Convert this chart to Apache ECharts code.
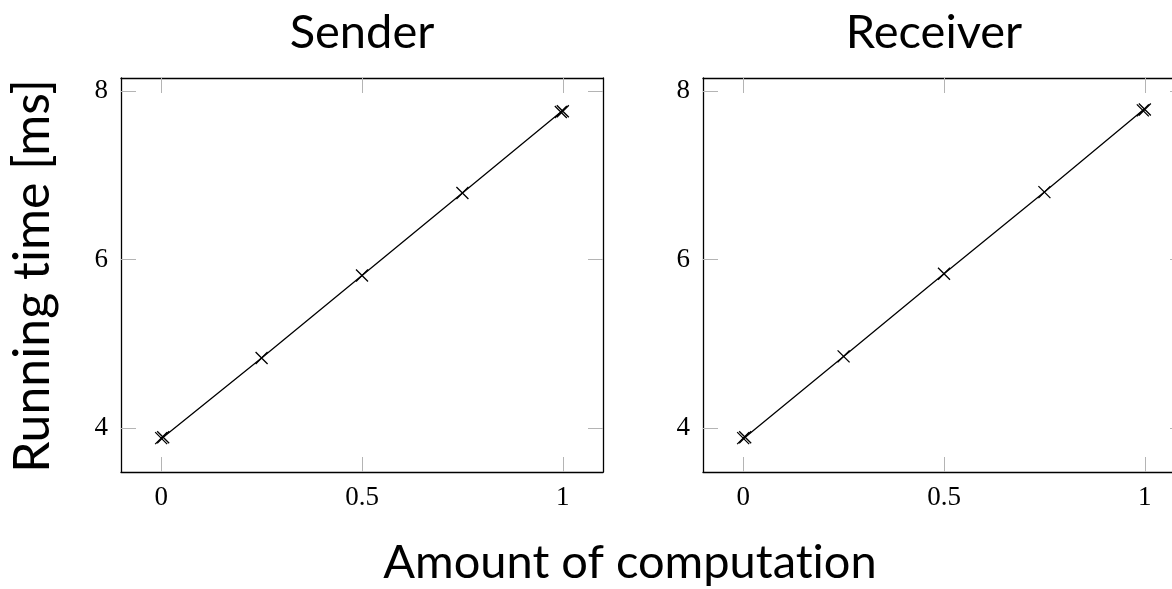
<!DOCTYPE html>
<html>
<head>
<meta charset="utf-8">
<script src="https://cdn.jsdelivr.net/npm/echarts@6/dist/echarts.min.js"></script>
<style>
  html, body { margin: 0; padding: 0; background: #fff; }
  #main { width: 1172px; height: 589px; }
</style>
</head>
<body>
<div id="main"></div>
<script>
// amount of computation (x) and running time in ms (y)
const amount = [0, 0.005, 0.25, 0.5, 0.75, 0.995, 1];
const senderTime = [3.88, 3.89, 4.83, 5.81, 6.79, 7.75, 7.76];
const receiverTime = [3.88, 3.89, 4.85, 5.83, 6.80, 7.77, 7.78];
const xTicks = [0, 0.5, 1];
const yTicks = [4, 6, 8];
const panelTitles = ['Sender', 'Receiver'];

const sansFont = 'Lato, "Open Sans", sans-serif';
const serifFont = '"Liberation Serif", "DejaVu Serif", serif';
const crossPath = 'path://M0,0L10,10M0,10L10,0';
const noLig = s => s.replace(/ti/g, 't\u200Ci'); // keep "ti" from turning into a ligature

function pairs(xs, ys) {
    return xs.map((x, i) => [x, ys[i]]);
}

const grids = [
    { left: 121, top: 78, width: 482, height: 394, outerBoundsMode: 'none' },
    { left: 703, top: 78, width: 482, height: 394, outerBoundsMode: 'none' }
];

let xAxes = [], yAxes = [];
grids.forEach((g, i) => {
    ['bottom', 'top'].forEach(pos => {
        xAxes.push({
            type: 'value', gridIndex: i, position: pos,
            min: -0.1, max: 1.1,
            axisLine: { show: true, onZero: false, lineStyle: { color: '#000', width: 1.3 } },
            axisTick: { show: true, inside: true, length: 15, customValues: xTicks, lineStyle: { color: '#b4b4b4', width: 1 } },
            axisLabel: {
                show: pos === 'bottom', customValues: xTicks, margin: 12,
                fontFamily: serifFont, fontSize: 27, color: '#000',
                formatter: v => String(v)
            },
            splitLine: { show: false }
        });
    });
    ['left', 'right'].forEach(pos => {
        yAxes.push({
            type: 'value', gridIndex: i, position: pos,
            min: 3.478, max: 8.154,
            axisLine: { show: true, onZero: false, lineStyle: { color: '#000', width: 1.3 } },
            axisTick: { show: true, inside: true, length: 15, customValues: yTicks, lineStyle: { color: '#b4b4b4', width: 1 } },
            axisLabel: {
                show: pos === 'left', customValues: yTicks, margin: 13,
                fontFamily: serifFont, fontSize: 27, color: '#000',
                formatter: v => String(v)
            },
            splitLine: { show: false }
        });
    });
});

function lineSeries(idx, data) {
    return {
        type: 'line',
        xAxisIndex: idx * 2, yAxisIndex: idx * 2,
        data: data,
        symbol: crossPath, symbolSize: 12, showAllSymbol: true,
        lineStyle: { color: '#000', width: 1.3 },
        itemStyle: { color: 'transparent', borderColor: '#000', borderWidth: 1.3 },
        emphasis: { disabled: true },
        z: 3
    };
}

const chart = echarts.init(document.getElementById('main'), null, { renderer: 'canvas' });
chart.setOption({
    animation: false,
    backgroundColor: '#fff',
    grid: grids,
    xAxis: xAxes,
    yAxis: yAxes,
    series: [
        lineSeries(0, pairs(amount, senderTime)),
        lineSeries(1, pairs(amount, receiverTime))
    ],
    graphic: [
        { type: 'text', x: 362, y: 33, style: { text: panelTitles[0], font: '47px ' + sansFont, fill: '#000', textAlign: 'center', textVerticalAlign: 'middle' } },
        { type: 'text', x: 934, y: 33, style: { text: panelTitles[1], font: '47px ' + sansFont, fill: '#000', textAlign: 'center', textVerticalAlign: 'middle' } },
        { type: 'text', x: 630, y: 563, style: { text: noLig('Amount of computation'), font: '47px ' + sansFont, fill: '#000', textAlign: 'center', textVerticalAlign: 'middle' } },
        { type: 'text', x: 33, y: 276, rotation: Math.PI / 2, style: { text: noLig('Running time [ms]'), font: '50px ' + sansFont, fill: '#000', textAlign: 'center', textVerticalAlign: 'middle' } }
    ]
});
</script>
</body>
</html>
